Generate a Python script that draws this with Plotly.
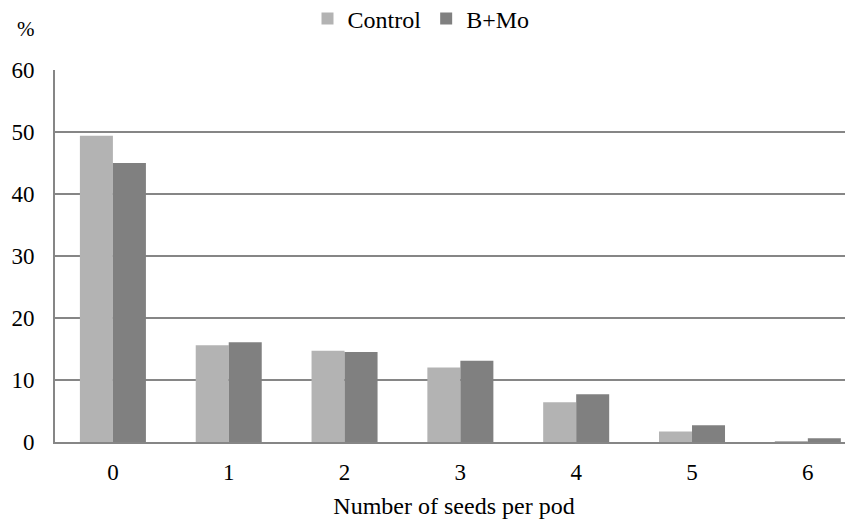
import plotly.graph_objects as go

categories = ["0", "1", "2", "3", "4", "5", "6"]
control = [49.4, 15.6, 14.7, 12.0, 6.4, 1.7, 0.1]
bmo = [45.0, 16.1, 14.5, 13.1, 7.7, 2.7, 0.6]
series_names = ["Control", "B+Mo"]
y_ticks = [0, 10, 20, 30, 40, 50, 60]

FONT = "Liberation Serif, Times New Roman, serif"

# page body has an 8px margin, so the figure is 8px smaller than the window
W, H = 845, 511
L, T, B = 47, 62, 77

fig = go.Figure()
fig.add_trace(go.Bar(x=categories, y=control, name=series_names[0],
                     marker=dict(color="#b3b3b3", line=dict(width=0))))
fig.add_trace(go.Bar(x=categories, y=bmo, name=series_names[1],
                     marker=dict(color="#808080", line=dict(width=0))))

fig.update_layout(
    width=W, height=H,
    margin=dict(l=L, r=0, t=T, b=B, pad=0),
    paper_bgcolor="white", plot_bgcolor="white",
    font=dict(family=FONT, size=23, color="black"),
    barmode="group", bargap=0.43, bargroupgap=0,
    showlegend=True,
    legend=dict(orientation="h", xref="container", x=(421 - 8) / W, xanchor="center",
                yref="container", y=1 - 11 / H, yanchor="middle",
                font=dict(size=24), itemwidth=30, bgcolor="rgba(0,0,0,0)",
                traceorder="normal", tracegroupgap=0),
    xaxis=dict(type="category", range=[-0.5, 6.39], showline=True, linecolor="#868686",
               linewidth=2, ticks="", showgrid=False, automargin=False,
               ticklabelstandoff=8,
               title=dict(text="Number of seeds per pod", font=dict(size=24), standoff=14),
               tickfont=dict(size=23)),
    yaxis=dict(range=[0, 60], tickvals=y_ticks, showline=True, linecolor="#868686",
               linewidth=2, showgrid=True, gridcolor="#868686", gridwidth=2,
               ticks="", ticklabelstandoff=14, tickfont=dict(size=23), zeroline=False,
               automargin=False),
)
plot_w = W - L
plot_h = H - T - B
fig.add_annotation(text="%", xref="paper", yref="paper",
                   x=(18 - L) / plot_w, y=(H - B - 21) / plot_h,
                   xanchor="center", yanchor="middle", showarrow=False,
                   font=dict(size=21))

fig.write_html("out.html")
